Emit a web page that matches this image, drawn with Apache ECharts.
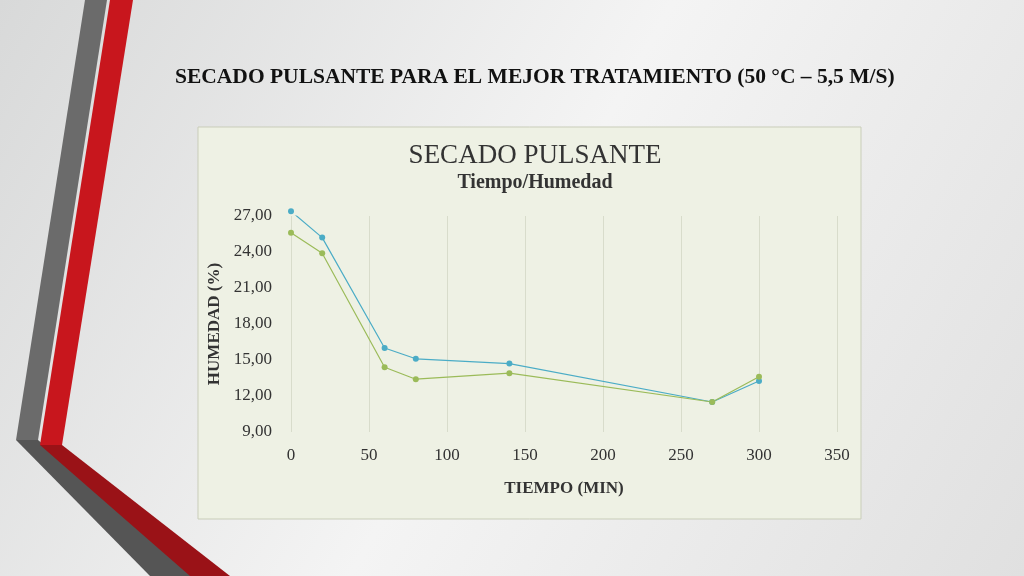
<!DOCTYPE html>
<html><head><meta charset="utf-8">
<script src="https://cdn.jsdelivr.net/npm/echarts@6/dist/echarts.min.js"></script>
<style>html,body{margin:0;padding:0}#c{width:1024px;height:576px}</style>
</head><body><div id="c"></div>
<script>
const tiempo = [0, 20, 60, 80, 140, 270, 300];
const serieA = [27.4, 25.2, 16.0, 15.1, 14.7, 11.5, 13.25];
const serieB = [25.6, 23.9, 14.4, 13.4, 13.9, 11.5, 13.6];
const xTicks = [0, 50, 100, 150, 200, 250, 300, 350];
const yTicks = [9, 12, 15, 18, 21, 24, 27];
const chart = echarts.init(document.getElementById('c'));
const font = '"Liberation Serif", "DejaVu Serif", serif';
chart.setOption({
  backgroundColor: {type:'linear',x:0,y:0,x2:1,y2:1,colorStops:[{offset:0,color:'#d8d9d9'},{offset:0.5,color:'#f4f4f4'},{offset:1,color:'#e0e0e0'}]},
  graphic: [
    {type:'polygon', shape:{points:[[85,0],[107,0],[38,440],[16,440]]}, style:{fill:'#6b6b6b'}, z:-1},
    {type:'polygon', shape:{points:[[16,440],[38,440],[200,576],[150,576]]}, style:{fill:'#555'}, z:-1},
    {type:'polygon', shape:{points:[[110,0],[133,0],[62,445],[40,445]]}, style:{fill:'#c8161d'}, z:-1},
    {type:'polygon', shape:{points:[[40,445],[62,445],[230,576],[190,576]]}, style:{fill:'#9a1217'}, z:-1},
    {type:'rect', shape:{x:198,y:127,width:663,height:392}, style:{fill:'#eef1e4',stroke:'#c9cdb9'}, z:-1},
    {type:'text', left:175, top:66, style:{text:'SECADO PULSANTE PARA EL MEJOR TRATAMIENTO (50 °C – 5,5 M/S)', font:'bold 21.5px '+font, fill:'#111'}},
  ],
  title: {text:'SECADO PULSANTE', subtext:'Tiempo/Humedad', left:530, textAlign:'center', top:137,
    textStyle:{fontFamily:font, fontSize:27, color:'#333', fontWeight:'normal'},
    subtextStyle:{fontFamily:font, fontSize:20, color:'#333', fontWeight:'bold'}, itemGap:4},
  grid: {left:291, right:187, top:216, bottom:144},
  xAxis: {type:'value', min:0, max:350, interval:50, name:'TIEMPO (MIN)', nameLocation:'middle', nameGap:48,
    nameTextStyle:{fontFamily:font, fontSize:17, fontWeight:'bold', color:'#333'},
    axisLine:{show:false}, axisTick:{show:false},
    axisLabel:{fontFamily:font, fontSize:17, color:'#333', margin:15},
    splitLine:{lineStyle:{color:'#d8dccb'}}},
  yAxis: {type:'value', min:9, max:27, interval:3, name:'HUMEDAD (%)', nameLocation:'middle', nameGap:64,
    nameTextStyle:{fontFamily:font, fontSize:17, fontWeight:'bold', color:'#333'},
    axisLine:{show:false}, axisTick:{show:false},
    axisLabel:{fontFamily:font, fontSize:17, color:'#333', margin:19, formatter:v=>v.toFixed(2).replace('.',',')},
    splitLine:{show:false}},
  series: [
    {type:'line', clip:false, data:tiempo.map((t,i)=>[t,serieA[i]]), color:'#4bacc6', symbol:'circle', symbolSize:6, lineStyle:{width:1.2}},
    {type:'line', clip:false, data:tiempo.map((t,i)=>[t,serieB[i]]), color:'#9bbb59', symbol:'circle', symbolSize:6, lineStyle:{width:1.2}}
  ]
});
</script></body></html>
